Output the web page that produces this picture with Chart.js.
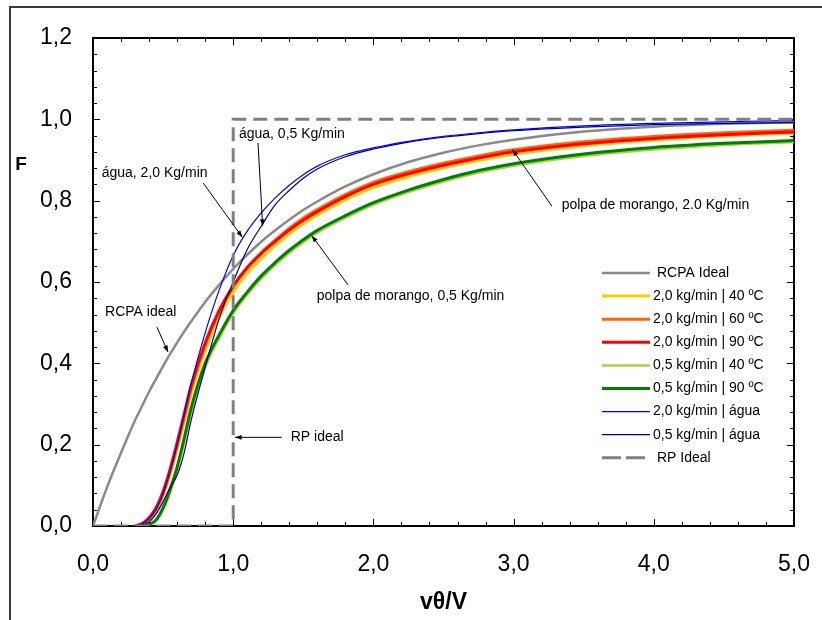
<!DOCTYPE html>
<html>
<head>
<meta charset="utf-8">
<script src="https://cdn.jsdelivr.net/npm/chart.js@4.4.0/dist/chart.umd.min.js"></script>
<style>
  body { margin: 0; background: #fff; }
  canvas { display: block; }
</style>
</head>
<body>
<canvas id="chart" width="822" height="620"></canvas>
<script>
// vθ/V values shared by the measured curves
const theta = [0, 0.1, 0.2, 0.3, 0.35, 0.4, 0.45, 0.5, 0.55, 0.6, 0.65, 0.7, 0.8, 0.9, 1.0, 1.1, 1.2, 1.3, 1.4, 1.5, 1.6, 1.8, 2.0, 2.25, 2.5, 2.75, 3.0, 3.5, 4.0, 4.5, 5.0];

const rcpaIdeal = [0, .095, .18, .26, .295, .33, .362, .393, .423, .451, .478, .503, .551, .593, .632, .667, .699, .727, .753, .777, .798, .835, .865, .895, .918, .936, .95, .97, .982, .989, .993];
const f20at40 = [null, null, null, 0, .004, .015, .038, .074, .125, .188, .255, .325, .432, .513, .575, .622, .658, .69, .718, .743, .765, .802, .832, .859, .881, .899, .914, .935, .949, .959, .966];
const f20at60 = [null, null, null, 0, .005, .018, .042, .08, .133, .197, .266, .337, .445, .527, .589, .636, .672, .703, .732, .757, .778, .815, .845, .871, .892, .91, .925, .945, .958, .967, .973];
const f20at90 = [null, null, null, 0, .006, .02, .045, .085, .14, .205, .275, .345, .45, .53, .59, .635, .67, .70, .728, .752, .773, .81, .84, .866, .887, .905, .92, .94, .953, .962, .969];
const f05at40 = [null, null, null, null, 0, .003, .012, .04, .083, .137, .205, .28, .39, .462, .523, .569, .609, .642, .672, .698, .721, .758, .79, .821, .847, .869, .886, .91, .926, .937, .944];
const f05at90 = [null, null, null, null, 0, .004, .015, .045, .09, .145, .215, .29, .40, .47, .53, .575, .615, .648, .678, .704, .727, .763, .795, .826, .852, .874, .891, .915, .931, .941, .948];
const f20agua = [null, null, null, 0, .005, .018, .042, .08, .135, .2, .275, .35, .475, .58, .665, .725, .77, .807, .838, .864, .885, .913, .93, .946, .958, .967, .974, .984, .99, .994, .997];
const f05agua = [null, 0, 0, 0, .002, .01, .03, .06, .095, .125, .18, .26, .39, .51, .6, .68, .737, .79, .825, .855, .878, .908, .927, .944, .956, .965, .972, .981, .987, .99, .992];

// ideal plug flow (RP)
const rpX = [0, 1, 1, 5];
const rpY = [0, 0, 1, 1];

const xTicks = [0, 1, 2, 3, 4, 5];
const yTicks = [0, 0.2, 0.4, 0.6, 0.8, 1.0, 1.2];

// annotations (data units): text left/middle, arrow tail -> head
const noteText = ["água, 0,5 Kg/min", "água, 2,0 Kg/min", "polpa de morango, 2.0 Kg/min", "polpa de morango, 0,5 Kg/min", "RCPA ideal", "RP ideal"];
const noteX = [1.041, 0.062, 3.343, 1.596, 0.086, 1.41];
const noteY = [0.964, 0.868, 0.789, 0.564, 0.526, 0.219];
const arrowFromX = [1.177, 0.787, 3.272, 1.819, 0.456, 1.346];
const arrowFromY = [0.942, 0.843, 0.787, 0.593, 0.489, 0.218];
const arrowToX = [1.21, 1.065, 2.991, 1.56, 0.535, 1.013];
const arrowToY = [0.738, 0.71, 0.926, 0.714, 0.428, 0.218];

const FONT = "'Liberation Sans', Arial, sans-serif";
Chart.defaults.font.family = FONT;
Chart.defaults.color = "#000";

const toPoints = (xs, ys) => xs.map((x, i) => ({ x: x, y: ys[i] })).filter(p => p.y !== null);
const fmt = v => v.toFixed(1).replace(".", ",");

const makeSet = (label, values, color, width, order) => ({
    label: label,
    data: toPoints(theta, values),
    borderColor: color,
    backgroundColor: color,
    borderWidth: width,
    pointRadius: 0,
    cubicInterpolationMode: "monotone",
    fill: false,
    order: order
});

const datasets = [
    makeSet("RCPA Ideal", rcpaIdeal, "#8a8a8a", 2.5, 8),
    makeSet("2,0 kg/min | 40 ºC", f20at40, "#FFCC00", 3, 7),
    makeSet("2,0 kg/min | 60 ºC", f20at60, "#FF6600", 3, 6),
    makeSet("2,0 kg/min | 90 ºC", f20at90, "#FF0000", 3, 5),
    makeSet("0,5 kg/min | 40 ºC", f05at40, "#A8D040", 2.5, 4),
    makeSet("0,5 kg/min | 90 ºC", f05at90, "#008000", 3, 3),
    makeSet("2,0 kg/min | água", f20agua, "#0000FF", 1.2, 1),
    makeSet("0,5 kg/min | água", f05agua, "#000080", 1.2, 2),
    {
        label: "RP Ideal",
        data: toPoints(rpX, rpY),
        borderColor: "#808080",
        borderWidth: 3,
        borderDash: [14, 7],
        pointRadius: 0,
        tension: 0,
        fill: false,
        order: 0
    }
];

// white page, outer border, plot frame and inward ticks
const framePlugin = {
    id: "frame",
    beforeDraw(chart) {
        const ctx = chart.ctx;
        ctx.save();
        ctx.fillStyle = "#fff";
        ctx.fillRect(0, 0, chart.width, chart.height);
        ctx.strokeStyle = "#3a3a3a";
        ctx.lineWidth = 2;
        ctx.strokeRect(10, 7, 900, 900);
        ctx.restore();
    },
    beforeDatasetsDraw(chart) {
        const ctx = chart.ctx;
        const a = chart.chartArea;
        const xs = chart.scales.x, ys = chart.scales.y;
        ctx.save();
        ctx.strokeStyle = "#000";
        ctx.lineWidth = 1;
        ctx.beginPath();
        for (let i = 0; i <= 25; i++) {
            const p = Math.round(xs.getPixelForValue(i * 0.2)) + 0.5;
            const len = i % 5 === 0 ? 7 : 4;
            ctx.moveTo(p, a.bottom); ctx.lineTo(p, a.bottom - len);
            ctx.moveTo(p, a.top); ctx.lineTo(p, a.top + len);
        }
        for (let i = 0; i <= 30; i++) {
            const p = Math.round(ys.getPixelForValue(i * 0.04)) + 0.5;
            const len = i % 5 === 0 ? 7 : 4;
            ctx.moveTo(a.left, p); ctx.lineTo(a.left + len, p);
            ctx.moveTo(a.right, p); ctx.lineTo(a.right - len, p);
        }
        ctx.stroke();
        ctx.lineWidth = 2;
        ctx.strokeRect(a.left, a.top, a.right - a.left, a.bottom - a.top);
        ctx.restore();
    },
    afterDraw(chart) {
        const ctx = chart.ctx;
        const xs = chart.scales.x, ys = chart.scales.y;
        ctx.save();
        ctx.fillStyle = "#000";
        ctx.strokeStyle = "#000";

        // axis titles
        ctx.font = "bold 23px " + FONT;
        ctx.textAlign = "center";
        ctx.textBaseline = "middle";
        ctx.fillText("vθ/V", (chart.chartArea.left + chart.chartArea.right) / 2, 603);
        ctx.font = "bold 19px " + FONT;
        ctx.fillText("F", 21, 165);

        // annotations
        ctx.font = "14px " + FONT;
        ctx.textAlign = "left";
        noteText.forEach((t, i) => {
            ctx.fillText(t, xs.getPixelForValue(noteX[i]), ys.getPixelForValue(noteY[i]));
            const x1 = xs.getPixelForValue(arrowFromX[i]), y1 = ys.getPixelForValue(arrowFromY[i]);
            const x2 = xs.getPixelForValue(arrowToX[i]), y2 = ys.getPixelForValue(arrowToY[i]);
            const ang = Math.atan2(y2 - y1, x2 - x1);
            ctx.lineWidth = 1;
            ctx.beginPath();
            ctx.moveTo(x1, y1);
            ctx.lineTo(x2, y2);
            ctx.stroke();
            ctx.beginPath();
            ctx.moveTo(x2, y2);
            ctx.lineTo(x2 - 7 * Math.cos(ang - 0.35), y2 - 7 * Math.sin(ang - 0.35));
            ctx.lineTo(x2 - 7 * Math.cos(ang + 0.35), y2 - 7 * Math.sin(ang + 0.35));
            ctx.closePath();
            ctx.fill();
        });

        // legend
        const lx = 602, ly = 273, step = 23.1;
        chart.data.datasets.forEach((ds, i) => {
            const y = ly + i * step;
            ctx.strokeStyle = ds.borderColor;
            ctx.lineWidth = ds.borderWidth;
            ctx.setLineDash(ds.borderDash ? [19, 5] : []);
            ctx.beginPath();
            ctx.moveTo(lx, y);
            ctx.lineTo(lx + 48, y);
            ctx.stroke();
            ctx.setLineDash([]);
            ctx.fillStyle = "#000";
            const textX = ds.label.indexOf("kg/min") >= 0 ? lx + 51 : lx + 55;
            ctx.fillText(ds.label, textX, y);
        });
        ctx.restore();
    }
};

const noPad = s => { s.paddingLeft = 0; s.paddingRight = 0; s.paddingTop = 0; s.paddingBottom = 0; };

new Chart(document.getElementById("chart"), {
    type: "line",
    data: { datasets: datasets },
    options: {
        responsive: false,
        animation: false,
        layout: { padding: { top: 38, right: 28, left: 0, bottom: 0 } },
        plugins: { legend: { display: false }, tooltip: { enabled: false } },
        scales: {
            x: {
                type: "linear",
                min: 0,
                max: 5,
                afterFit: s => { s.height = 94; noPad(s); },
                afterBuildTicks: s => { s.ticks = xTicks.map(v => ({ value: v })); },
                grid: { display: false, drawTicks: false },
                border: { display: false },
                ticks: { font: { size: 23 }, padding: 25, maxRotation: 0, callback: v => fmt(v) }
            },
            y: {
                type: "linear",
                min: 0,
                max: 1.2,
                afterFit: s => { s.width = 93; noPad(s); },
                afterBuildTicks: s => { s.ticks = yTicks.map(v => ({ value: v })); },
                grid: { display: false, drawTicks: false },
                border: { display: false },
                ticks: { font: { size: 23 }, padding: 21, callback: v => fmt(v) }
            }
        }
    },
    plugins: [framePlugin]
});
</script>
</body>
</html>
